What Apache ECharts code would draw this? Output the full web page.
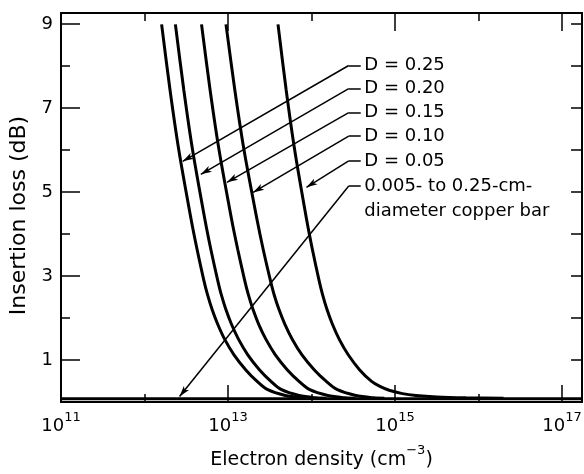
<!DOCTYPE html>
<html>
<head>
<meta charset="utf-8">
<script src="https://cdn.jsdelivr.net/npm/echarts@6/dist/echarts.min.js"></script>
<style>
  html, body { margin: 0; padding: 0; background: #fff; }
  #chart { width: 584px; height: 474px; }
</style>
</head>
<body>
<div id="chart"></div>
<script>
// x values are log10 of electron density (cm^-3), y is insertion loss (dB)
const curveNames = ['D = 0.25', 'D = 0.20', 'D = 0.15', 'D = 0.10', 'D = 0.05'];
const lossLevels = [8.99, 7.44, 6.01, 4.35, 3.63, 2.92, 2.56, 2.20, 1.85, 1.49, 1.13, 0.77, 0.49, 0.30, 0.155, 0.10, 0.09];
const xD25 = [12.205, 12.305, 12.410, 12.558, 12.630, 12.708, 12.754, 12.810, 12.877, 12.961, 13.070, 13.211, 13.349, 13.470, 13.687, 13.892, 14.012];
const xD20 = [12.370, 12.470, 12.575, 12.723, 12.795, 12.874, 12.919, 12.975, 13.042, 13.127, 13.235, 13.376, 13.515, 13.635, 13.852, 14.057, 14.177];
const xD15 = [12.683, 12.785, 12.892, 13.043, 13.117, 13.197, 13.243, 13.300, 13.368, 13.455, 13.565, 13.709, 13.851, 13.973, 14.195, 14.404, 14.526];
const xD10 = [12.976, 13.081, 13.191, 13.347, 13.422, 13.505, 13.552, 13.611, 13.682, 13.771, 13.884, 14.032, 14.178, 14.304, 14.532, 14.747, 14.873];
// D = 0.05 has a longer tail
const xD05 = [13.599, 13.696, 13.798, 13.941, 14.011, 14.088, 14.132, 14.186, 14.251, 14.333, 14.438, 14.575, 14.720, 14.820, 14.930, 15.090, 15.250, 15.500, 15.850, 16.300];
const yD05 = [8.99, 7.44, 6.01, 4.35, 3.63, 2.92, 2.56, 2.20, 1.85, 1.49, 1.13, 0.77, 0.49, 0.37, 0.28, 0.20, 0.155, 0.12, 0.10, 0.09];
// copper bar (0.005 to 0.25 cm) stays flat
const xBar = [11, 17.24];
const yBar = [0.08, 0.08];

// tick labels
const xLabelExp = [11, 13, 15, 17];
const xMinorExp = [12, 14, 16];
const yMajor = [1, 3, 5, 7, 9];
const yMinor = [2, 4, 6, 8];
const yRight = [1, 2, 3, 4, 5, 6, 7, 8, 9];

// annotations: text, level of the text, arrow tip
const noteText = ['D = 0.25', 'D = 0.20', 'D = 0.15', 'D = 0.10', 'D = 0.05', '0.005- to 0.25-cm-'];
const noteY = [8.01, 7.46, 6.89, 6.33, 5.74, 5.14];
const tipX = [12.458, 12.675, 12.988, 13.301, 13.94, 12.42];
const tipY = [5.73, 5.42, 5.23, 4.99, 5.11, 0.13];
const noteLine2 = 'diameter copper bar';
const noteLine2Y = 4.54;

const FONT = 'DejaVu Sans';
const stubStart = 14.446, stubEnd = 14.59, textStart = 14.627;

function pairs(xs, ys) {
  return xs.map((x, i) => [x, ys[i]]);
}

const curves = [[xD25, lossLevels], [xD20, lossLevels], [xD15, lossLevels], [xD10, lossLevels], [xD05, yD05]];

let series = curves.map((c, i) => ({
  name: curveNames[i],
  type: 'line',
  data: pairs(c[0], c[1]),
  showSymbol: false,
  smooth: 0.3,
  lineStyle: { color: '#000', width: 3 },
  silent: true
}));

let leaderLines = [];
noteText.forEach((t, i) => {
  leaderLines.push([{ coord: [stubStart, noteY[i]], symbol: 'none' }, { coord: [stubEnd, noteY[i]], symbol: 'none' }]);
  leaderLines.push([{ coord: [stubStart, noteY[i]], symbol: 'none' },
    { coord: [tipX[i], tipY[i]], symbol: 'arrow', symbolSize: [5, 11] }]);
});

let notePoints = noteText.map((t, i) => ({ name: t, coord: [textStart, noteY[i]] }));
notePoints.push({ name: noteLine2, coord: [textStart, noteLine2Y] });

series.push({
  name: 'copper bar',
  type: 'line',
  data: pairs(xBar, yBar),
  showSymbol: false,
  lineStyle: { color: '#000', width: 3 },
  silent: true,
  markLine: {
    silent: true,
    animation: false,
    symbol: ['none', 'arrow'],
    lineStyle: { color: '#000', width: 1.5, type: 'solid' },
    label: { show: false },
    emphasis: { disabled: true },
    data: leaderLines
  },
  markPoint: {
    silent: true,
    animation: false,
    symbol: 'circle',
    symbolSize: 1,
    itemStyle: { color: 'transparent' },
    label: {
      show: true,
      position: 'right',
      distance: 0,
      formatter: '{b}',
      color: '#000',
      fontFamily: FONT,
      fontSize: 18
    },
    data: notePoints
  }
});

const axisLine = { show: true, onZero: false, lineStyle: { color: '#000', width: 2 } };
const noLine = { show: false, onZero: false };
const xBase = { type: 'value', min: 11, max: 17.24, splitLine: { show: false } };
const yBase = { type: 'value', min: 0, max: 9.26, splitLine: { show: false } };

function ticks(vals, len) {
  return { show: true, inside: true, length: len, customValues: vals, lineStyle: { color: '#000', width: 1.5 } };
}

const option = {
  backgroundColor: '#fff',
  animation: false,
  grid: { left: 61, right: 2, top: 13, bottom: 72, containLabel: false, outerBoundsMode: 'none' },
  xAxis: [
    Object.assign({}, xBase, {
      position: 'bottom',
      axisLine: axisLine,
      axisTick: ticks(xLabelExp, 17),
      axisLabel: {
        customValues: xLabelExp,
        margin: 9,
        formatter: v => '{b|10}{s|' + v + '}',
        rich: {
          b: { fontSize: 18, fontFamily: FONT, color: '#000', lineHeight: 24, verticalAlign: 'bottom' },
          s: { fontSize: 13, fontFamily: FONT, color: '#000', lineHeight: 14, verticalAlign: 'top' }
        }
      },
      name: '{n|Electron density (cm}{s|\u22123}{n|)}',
      nameLocation: 'middle',
      nameGap: 42,
      nameTextStyle: {
        fontSize: 19, fontFamily: FONT, color: '#000',
        rich: {
          n: { fontSize: 19, fontFamily: FONT, color: '#000', lineHeight: 26, verticalAlign: 'bottom' },
          s: { fontSize: 13, fontFamily: FONT, color: '#000', lineHeight: 13, verticalAlign: 'top' }
        }
      }
    }),
    Object.assign({}, xBase, { position: 'bottom', axisLine: noLine, axisTick: ticks(xMinorExp, 8), axisLabel: { show: false } }),
    Object.assign({}, xBase, { position: 'top', axisLine: axisLine, axisTick: ticks(xLabelExp, 18), axisLabel: { show: false } }),
    Object.assign({}, xBase, { position: 'top', axisLine: noLine, axisTick: ticks(xMinorExp, 8), axisLabel: { show: false } })
  ],
  yAxis: [
    Object.assign({}, yBase, {
      position: 'left',
      axisLine: axisLine,
      axisTick: ticks(yMajor, 19),
      axisLabel: { customValues: yMajor, margin: 8, fontSize: 18, fontFamily: FONT, color: '#000' },
      name: 'Insertion loss (dB)',
      nameLocation: 'middle',
      nameGap: 31,
      nameTextStyle: { fontSize: 22, fontFamily: FONT, color: '#000', padding: [0, 16, 0, 0] }
    }),
    Object.assign({}, yBase, { position: 'left', axisLine: noLine, axisTick: ticks(yMinor, 9), axisLabel: { show: false } }),
    Object.assign({}, yBase, { position: 'right', axisLine: axisLine, axisTick: ticks(yRight, 11), axisLabel: { show: false } })
  ],
  series: series
};

const myChart = echarts.init(document.getElementById('chart'), null, { renderer: 'canvas' });
myChart.setOption(option);
</script>
</body>
</html>
